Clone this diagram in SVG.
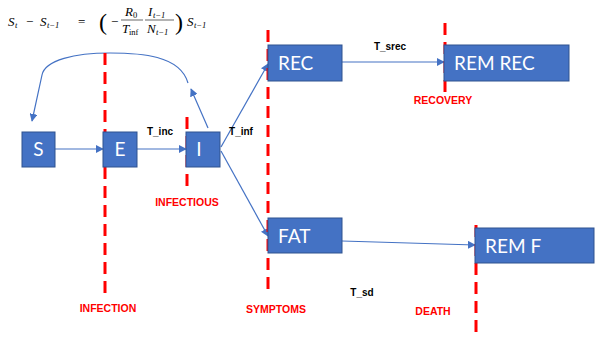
<svg xmlns="http://www.w3.org/2000/svg" width="598" height="345" viewBox="0 0 598 345">
<style>
.node{fill:#4472C4;stroke:#2F528F;stroke-width:1}
.nt{font-family:Lato,"Liberation Sans",sans-serif;font-size:19px;fill:#fff}
.cn{stroke:#4472C4;stroke-width:1.2;fill:none}
.dash{stroke:#FF0000;stroke-width:3;stroke-dasharray:12,7;fill:none}
.lbl{font-family:"Liberation Sans",Arial,sans-serif;font-size:10px;font-weight:bold;fill:#000}
.rl{font-family:"Liberation Sans",Arial,sans-serif;font-size:10.5px;font-weight:bold;fill:#FF0000}
.m{font-family:"Liberation Serif","Times New Roman",serif;font-size:13px;fill:#000}
.mi{font-style:italic}
.sub{font-size:8.5px}
</style>
<defs>
<marker id="ah" viewBox="0 0 10 10" refX="9" refY="5" markerWidth="8" markerHeight="8" markerUnits="userSpaceOnUse" orient="auto">
<path d="M0,0 L10,5 L0,10 z" fill="#4472C4"/>
</marker>
</defs>
<g id="formula" class="m">
<text x="8" y="26" class="mi">S</text><text x="15" y="28" class="sub mi">t</text>
<text x="26" y="26">−</text>
<text x="40" y="26" class="mi">S</text><text x="47" y="28" class="sub mi">t−1</text>
<text x="78" y="26">=</text>
<text x="99" y="30" font-size="24">(</text>
<text x="111" y="26">−</text>
<text x="125" y="16" class="mi">R</text><text x="133" y="18" class="sub">0</text>
<line x1="121" y1="20" x2="143" y2="20" stroke="#000" stroke-width="0.6"/>
<text x="122" y="33" class="mi">T</text><text x="129" y="35" class="sub">inf</text>
<text x="148" y="16" class="mi">I</text><text x="153" y="18" class="sub mi">t−1</text>
<line x1="145" y1="20" x2="174" y2="20" stroke="#000" stroke-width="0.6"/>
<text x="147" y="33" class="mi">N</text><text x="156" y="35" class="sub mi">t−1</text>
<text x="175" y="30" font-size="24">)</text>
<text x="187" y="26" class="mi">S</text><text x="194" y="28" class="sub mi">t−1</text>
</g>
<g id="connectors">
<line class="cn" x1="55" y1="149" x2="103" y2="149" marker-end="url(#ah)"/>
<line class="cn" x1="137" y1="149" x2="186" y2="149" marker-end="url(#ah)"/>
<line class="cn" x1="221" y1="147" x2="268" y2="64" marker-end="url(#ah)"/>
<line class="cn" x1="221" y1="151" x2="268" y2="236" marker-end="url(#ah)"/>
<line class="cn" x1="342" y1="62" x2="444" y2="62" marker-end="url(#ah)"/>
<line class="cn" x1="342" y1="241" x2="475" y2="245" marker-end="url(#ah)"/>
<line class="cn" x1="208" y1="128" x2="191" y2="89" marker-end="url(#ah)"/>
<path class="cn" d="M188,83 C180,55 140,53 110,53 C75,53 45,60 42,75 L32,121" marker-end="url(#ah)"/>
</g>
<g id="dividers">
<line class="dash" x1="105" y1="53" x2="105" y2="294"/>
<line class="dash" x1="187" y1="117" x2="187" y2="188"/>
<line class="dash" x1="268" y1="30" x2="268" y2="294"/>
<line class="dash" x1="445" y1="23" x2="445" y2="92"/>
<line class="dash" x1="476" y1="225" x2="476" y2="338"/>
</g>
<g id="S"><rect class="node" x="22" y="132" width="33" height="35"/><text class="nt" x="38.5" y="156" text-anchor="middle">S</text></g>
<g id="E"><rect class="node" x="103" y="132" width="34" height="35"/><text class="nt" x="120" y="156" text-anchor="middle">E</text></g>
<g id="I"><rect class="node" x="186" y="132" width="34" height="35"/><text class="nt" x="199" y="156" text-anchor="middle">I</text></g>
<g id="REC"><rect class="node" x="268" y="45" width="74" height="36"/><text class="nt" x="278" y="70">REC</text></g>
<g id="REMREC"><rect class="node" x="444" y="45" width="125" height="36"/><text class="nt" x="454" y="70">REM REC</text></g>
<g id="FAT"><rect class="node" x="268" y="218" width="74" height="35"/><text class="nt" x="278" y="243">FAT</text></g>
<g id="REMF"><rect class="node" x="475" y="228" width="119" height="35"/><text class="nt" x="485" y="253">REM F</text></g>
<g id="labels">
<text class="lbl" x="160" y="135" text-anchor="middle">T_inc</text>
<text class="lbl" x="241" y="135" text-anchor="middle">T_inf</text>
<text class="lbl" x="390" y="50" text-anchor="middle">T_srec</text>
<text class="lbl" x="362" y="296" text-anchor="middle">T_sd</text>
<text class="rl" x="187" y="206" text-anchor="middle">INFECTIOUS</text>
<text class="rl" x="108" y="312" text-anchor="middle">INFECTION</text>
<text class="rl" x="276" y="313" text-anchor="middle">SYMPTOMS</text>
<text class="rl" x="443" y="104" text-anchor="middle">RECOVERY</text>
<text class="rl" x="433" y="315" text-anchor="middle">DEATH</text>
</g>
</svg>
